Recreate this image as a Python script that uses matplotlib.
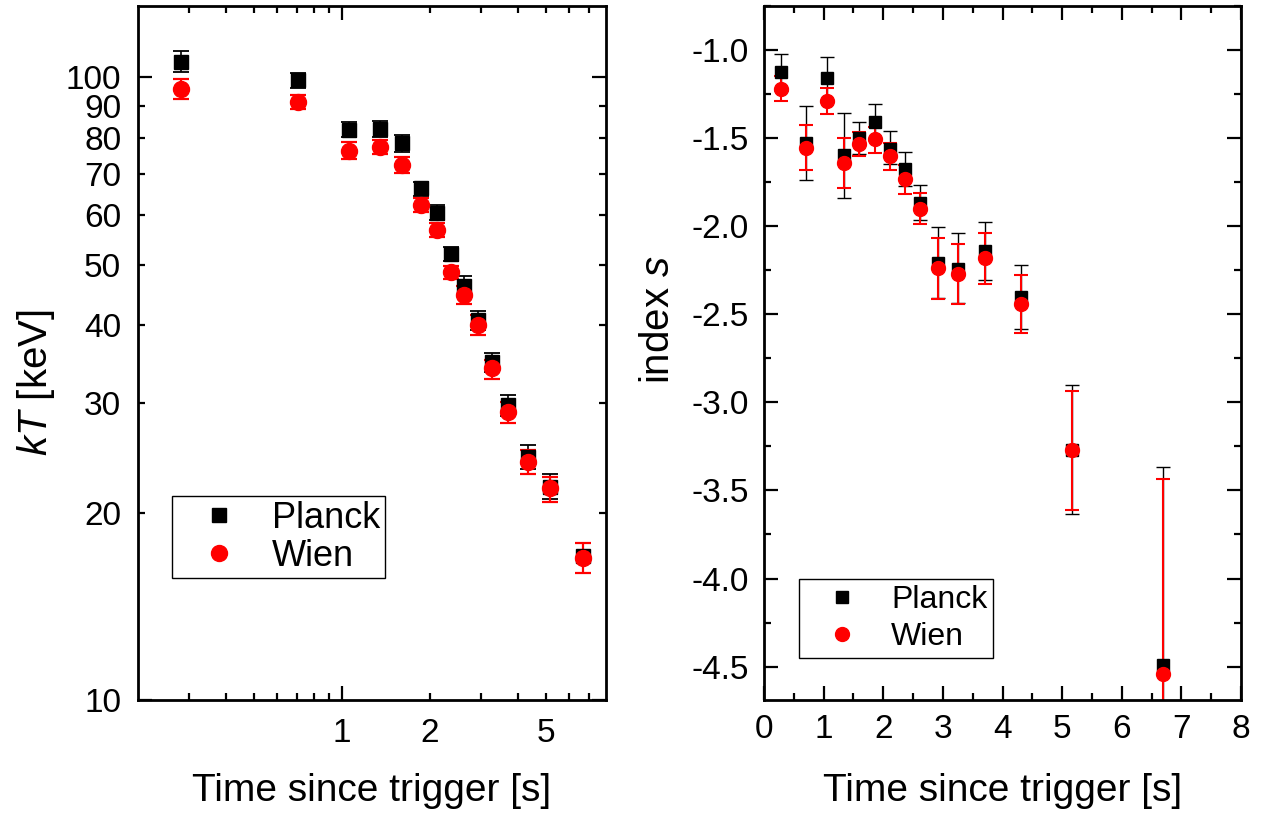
import numpy as np
import matplotlib.pyplot as plt
from matplotlib.ticker import FixedLocator, FuncFormatter, MultipleLocator

plt.rcParams['font.family'] = ['Liberation Sans', 'DejaVu Sans']
plt.rcParams['mathtext.fontset'] = 'custom'
plt.rcParams['mathtext.rm'] = 'Liberation Sans'
plt.rcParams['mathtext.it'] = 'Liberation Sans:italic'

# time bins (s)
t = [0.28, 0.705, 1.057, 1.345, 1.60, 1.856, 2.113, 2.365, 2.62, 2.92, 3.26, 3.70, 4.315, 5.16, 6.70]

# temperature kT [keV]
planck_kT = [106.0, 98.9, 82.4, 82.7, 78.5, 66.3, 60.6, 52.0, 46.3, 40.8, 34.9, 29.8, 24.6, 22.0, 17.0]
planck_kT_hi = [110.4, 101.6, 84.7, 85.0, 80.7, 67.9, 62.3, 53.4, 48.0, 42.2, 36.1, 30.9, 25.7, 23.1, 17.9]
planck_kT_lo = [102.0, 96.2, 80.1, 80.1, 75.9, 64.4, 59.0, 50.6, 44.6, 39.3, 33.6, 28.6, 23.5, 21.0, 16.0]
wien_kT = [95.9, 91.2, 76.1, 77.4, 72.4, 62.3, 56.9, 48.6, 44.7, 40.0, 34.1, 29.0, 24.1, 21.9, 16.9]
wien_kT_hi = [99.5, 93.5, 78.6, 79.4, 74.5, 64.0, 58.4, 49.8, 46.3, 41.5, 35.2, 30.1, 25.2, 22.8, 17.9]
wien_kT_lo = [92.4, 89.0, 73.9, 75.2, 70.3, 60.7, 55.4, 47.5, 43.2, 38.5, 32.8, 27.9, 23.1, 20.8, 16.0]

# index s
planck_s = [-1.123, -1.525, -1.156, -1.595, -1.500, -1.406, -1.563, -1.676, -1.866, -2.207, -2.241, -2.140, -2.402, -3.271, -4.489]
planck_s_hi = [-1.019, -1.317, -1.036, -1.355, -1.406, -1.303, -1.459, -1.578, -1.767, -2.002, -2.040, -1.974, -2.222, -2.903, -3.368]
planck_s_lo = [-1.231, -1.739, -1.284, -1.841, -1.591, -1.511, -1.648, -1.771, -1.966, -2.409, -2.434, -2.307, -2.580, -3.631, -5.610]
wien_s = [-1.218, -1.553, -1.288, -1.639, -1.534, -1.502, -1.600, -1.733, -1.900, -2.235, -2.273, -2.178, -2.440, -3.270, -4.540]
wien_s_hi = [-1.146, -1.426, -1.216, -1.497, -1.462, -1.436, -1.528, -1.653, -1.813, -2.065, -2.102, -2.036, -2.277, -2.936, -3.434]
wien_s_lo = [-1.288, -1.682, -1.364, -1.784, -1.600, -1.585, -1.680, -1.815, -1.989, -2.410, -2.440, -2.326, -2.605, -3.612, -5.646]


def yerr(v, lo, hi):
    v, lo, hi = np.array(v), np.array(lo), np.array(hi)
    return [v - lo, hi - v]


fig = plt.figure(figsize=(12.65, 8.19), dpi=100)
ax1 = fig.add_axes([0.109, 0.1453, 0.370, 0.847])
ax2 = fig.add_axes([0.604, 0.1453, 0.377, 0.847])

# left: kT vs time (log-log)
p1 = ax1.errorbar(t, planck_kT, yerr=yerr(planck_kT, planck_kT_lo, planck_kT_hi), fmt='s',
                  color='black', ms=10, elinewidth=1.2, capsize=5.8, capthick=1.3)
w1 = ax1.errorbar(t, wien_kT, yerr=yerr(wien_kT, wien_kT_lo, wien_kT_hi), fmt='o',
                  color='red', ms=11.5, elinewidth=1.6, capsize=5.8, capthick=1.6)
ax1.set_xscale('log')
ax1.set_yscale('log')
ax1.set_xlim(0.2, 8)
ax1.set_ylim(10, 130)

ax1.xaxis.set_major_locator(FixedLocator([1]))
ax1.xaxis.set_minor_locator(FixedLocator([0.3, 0.4, 0.5, 0.6, 0.7, 0.8, 0.9, 2, 3, 4, 5, 6, 7]))
ax1.xaxis.set_major_formatter(FuncFormatter(lambda v, p: '1'))
ax1.xaxis.set_minor_formatter(FuncFormatter(lambda v, p: '%d' % round(v) if round(v) in (2, 5) else ''))
ax1.yaxis.set_major_locator(FixedLocator([10, 100]))
ax1.yaxis.set_minor_locator(FixedLocator([20, 30, 40, 50, 60, 70, 80, 90]))
ax1.yaxis.set_major_formatter(FuncFormatter(lambda v, p: '%d' % round(v)))
ax1.yaxis.set_minor_formatter(FuncFormatter(lambda v, p: '%d' % round(v)))

ax1.set_xlabel('Time since trigger [s]', fontsize=28)
ax1.set_ylabel(r'$kT$ [keV]', fontsize=29)
ax1.yaxis.set_label_coords(-0.172, 0.457)
ax1.xaxis.set_label_coords(0.5, -0.105)

ax1.legend([p1[0], w1[0]], ['Planck', 'Wien'], loc='lower left', bbox_to_anchor=(0.073, 0.176),
           fontsize=26, fancybox=False, framealpha=1, edgecolor='black', handletextpad=0.3,
           borderpad=0.12, labelspacing=0.08, handlelength=2.35, borderaxespad=0)

# right: index s vs time
p2 = ax2.errorbar(t, planck_s, yerr=yerr(planck_s, planck_s_lo, planck_s_hi), fmt='s',
                  color='black', ms=9, elinewidth=1.0, capsize=5, capthick=1.0)
w2 = ax2.errorbar(t, wien_s, yerr=yerr(wien_s, wien_s_lo, wien_s_hi), fmt='o',
                  color='red', ms=10, elinewidth=1.5, capsize=5, capthick=1.5)
ax2.set_xlim(0, 8)
ax2.set_ylim(-4.69, -0.75)
ax2.xaxis.set_major_locator(MultipleLocator(1))
ax2.xaxis.set_minor_locator(MultipleLocator(0.5))
ax2.yaxis.set_major_locator(MultipleLocator(0.5))
ax2.yaxis.set_minor_locator(MultipleLocator(0.25))
ax2.xaxis.set_major_formatter(FuncFormatter(lambda v, p: '%d' % round(v)))
ax2.yaxis.set_major_formatter(FuncFormatter(lambda v, p: '%.1f' % v))

ax2.set_xlabel('Time since trigger [s]', fontsize=28)
ax2.set_ylabel('index $s$', fontsize=29)
ax2.yaxis.set_label_coords(-0.182, 0.548)
ax2.xaxis.set_label_coords(0.5, -0.105)

ax2.legend([p2[0], w2[0]], ['Planck', 'Wien'], loc='lower left', bbox_to_anchor=(0.073, 0.061),
           fontsize=23, fancybox=False, framealpha=1, edgecolor='black', handletextpad=0.36,
           borderpad=0.18, labelspacing=0.22, handlelength=2.35, borderaxespad=0)

for ax in (ax1, ax2):
    for sp in ax.spines.values():
        sp.set_linewidth(2.0)
    ax.tick_params(which='both', direction='in', top=True, right=True, width=1.6, labelsize=24)
    ax.tick_params(which='major', length=10)
    ax.tick_params(which='minor', length=5)
    ax.get_legend().get_frame().set_linewidth(1.0)

ax1.tick_params(axis='x', which='both', pad=13)
ax1.tick_params(axis='y', which='both', pad=12)
ax2.tick_params(axis='x', which='both', pad=10)
ax2.tick_params(axis='y', which='both', pad=11)

fig.savefig('out.png', dpi=100)
